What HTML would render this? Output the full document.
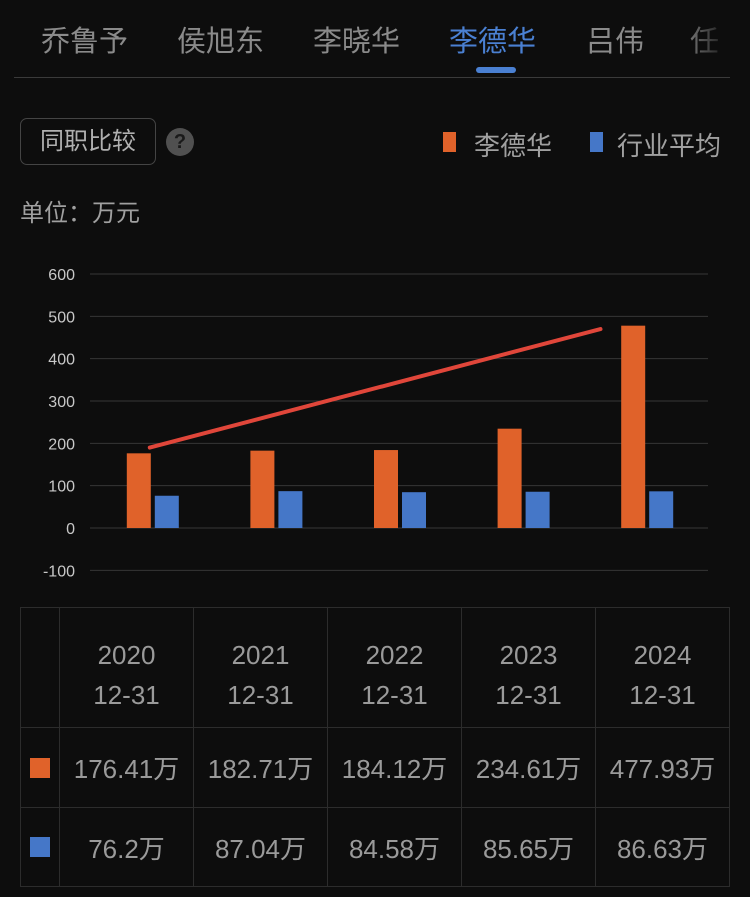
<!DOCTYPE html>
<html><head><meta charset="utf-8"><style>
body{margin:0;width:750px;height:897px;background:#0d0d0d;overflow:hidden;font-family:"Liberation Sans","Noto Sans CJK SC",sans-serif;color:#9a9a9a;position:relative}
.tab{position:absolute;top:18px;font-size:29px;color:#8a8a8a;white-space:nowrap}
.abs{position:absolute}
td{border:1px solid #2c2c2c;text-align:center;color:#9a9a9a;font-size:26px;padding:0}
table{border-collapse:collapse;position:absolute;left:20px;top:607px;width:710px}
.hd td{line-height:40px;padding-top:14px;box-sizing:border-box}
</style></head><body>
<div class="tab" style="left:41px">乔鲁予</div>
<div class="tab" style="left:177px">侯旭东</div>
<div class="tab" style="left:313px">李晓华</div>
<div class="tab" style="left:449px;color:#4a80d2">李德华</div>
<div class="tab" style="left:586px">吕伟</div>
<div class="tab" style="left:690px">任</div>
<div class="abs" style="left:680px;top:0;width:50px;height:78px;background:linear-gradient(90deg,rgba(13,13,13,0),#0d0d0d)"></div>
<div class="abs" style="left:476px;top:67px;width:40px;height:6px;border-radius:3px;background:#4a80d2"></div>
<div class="abs" style="left:14px;top:77px;width:716px;height:1px;background:#3a3a3a"></div>
<div class="abs" style="left:20px;top:118px;width:136px;height:47px;border:1px solid #444;border-radius:7px;box-sizing:border-box;font-size:24px;color:#b0b0b0;line-height:45px;text-align:center">同职比较</div>
<div class="abs" style="left:166px;top:128px;width:28px;height:28px;border-radius:50%;background:#505050;color:#1a1a1a;font-size:20px;font-weight:bold;text-align:center;line-height:28px">?</div>
<div class="abs" style="left:443px;top:132px;width:13px;height:20px;background:#e0622a"></div>
<div class="abs" style="left:474px;top:126px;font-size:26px;color:#a0a0a0">李德华</div>
<div class="abs" style="left:590px;top:132px;width:13px;height:20px;background:#4577c8"></div>
<div class="abs" style="left:617px;top:126px;font-size:26px;color:#a0a0a0">行业平均</div>
<div class="abs" style="left:20px;top:193px;font-size:24px;color:#a0a0a0">单位：万元</div>
<svg class="abs" style="left:0;top:0" width="750" height="600" id="chart"></svg>
<table>
<tr class="hd" style="height:120px"><td style="width:39px"></td><td>2020<br>12-31</td><td>2021<br>12-31</td><td>2022<br>12-31</td><td>2023<br>12-31</td><td>2024<br>12-31</td></tr>
<tr style="height:80px"><td><div style="width:20px;height:20px;background:#e0622a;margin:auto"></div></td><td>176.41万</td><td>182.71万</td><td>184.12万</td><td>234.61万</td><td>477.93万</td></tr>
<tr style="height:79px"><td><div style="width:20px;height:20px;background:#4577c8;margin:auto"></div></td><td>76.2万</td><td>87.04万</td><td>84.58万</td><td>85.65万</td><td>86.63万</td></tr>
</table>
<script>
const categories=["2020","2021","2022","2023","2024"];
const personValues=[176.41,182.71,184.12,234.61,477.93];
const industryValues=[76.2,87.04,84.58,85.65,86.63];
const yTicks=[600,500,400,300,200,100,0,-100];
const trendIdx=[0,3.63];
const trendValues=[190,470];
const svg=document.getElementById('chart');
const NS='http://www.w3.org/2000/svg';
const x0=90,x1=708,step=(x1-x0)/categories.length;
const y=v=>528-v*(254/600);
const xc=i=>x0+step*(i+0.5);
function mk(t,a){const e=document.createElementNS(NS,t);for(const k in a)e.setAttribute(k,a[k]);svg.appendChild(e);return e;}
yTicks.forEach(t=>{
 const l=mk('line',{x1:x0,x2:x1,y1:y(t),y2:y(t),stroke:'#363636','stroke-width':1});
 
 
 const tx=mk('text',{x:75,y:y(t)+6,'text-anchor':'end','font-size':16,fill:'#c8c8c8','font-family':'Liberation Sans, sans-serif'});
 tx.textContent=t;
 
 
});
categories.forEach((c,i)=>{
 const b=mk('rect',{x:xc(i)-25,y:y(personValues[i]),width:24,height:y(0)-y(personValues[i]),fill:'#e0622a'});
 
 
 const b2=mk('rect',{x:xc(i)+3,y:y(industryValues[i]),width:24,height:y(0)-y(industryValues[i]),fill:'#4577c8'});
 
 
});
const tl=mk('line',{x1:xc(trendIdx[0])-2,y1:y(trendValues[0]),x2:xc(trendIdx[1]),y2:y(trendValues[1]),stroke:'#e0463a','stroke-width':4,'stroke-linecap':'round'});


</script>
</body></html>
